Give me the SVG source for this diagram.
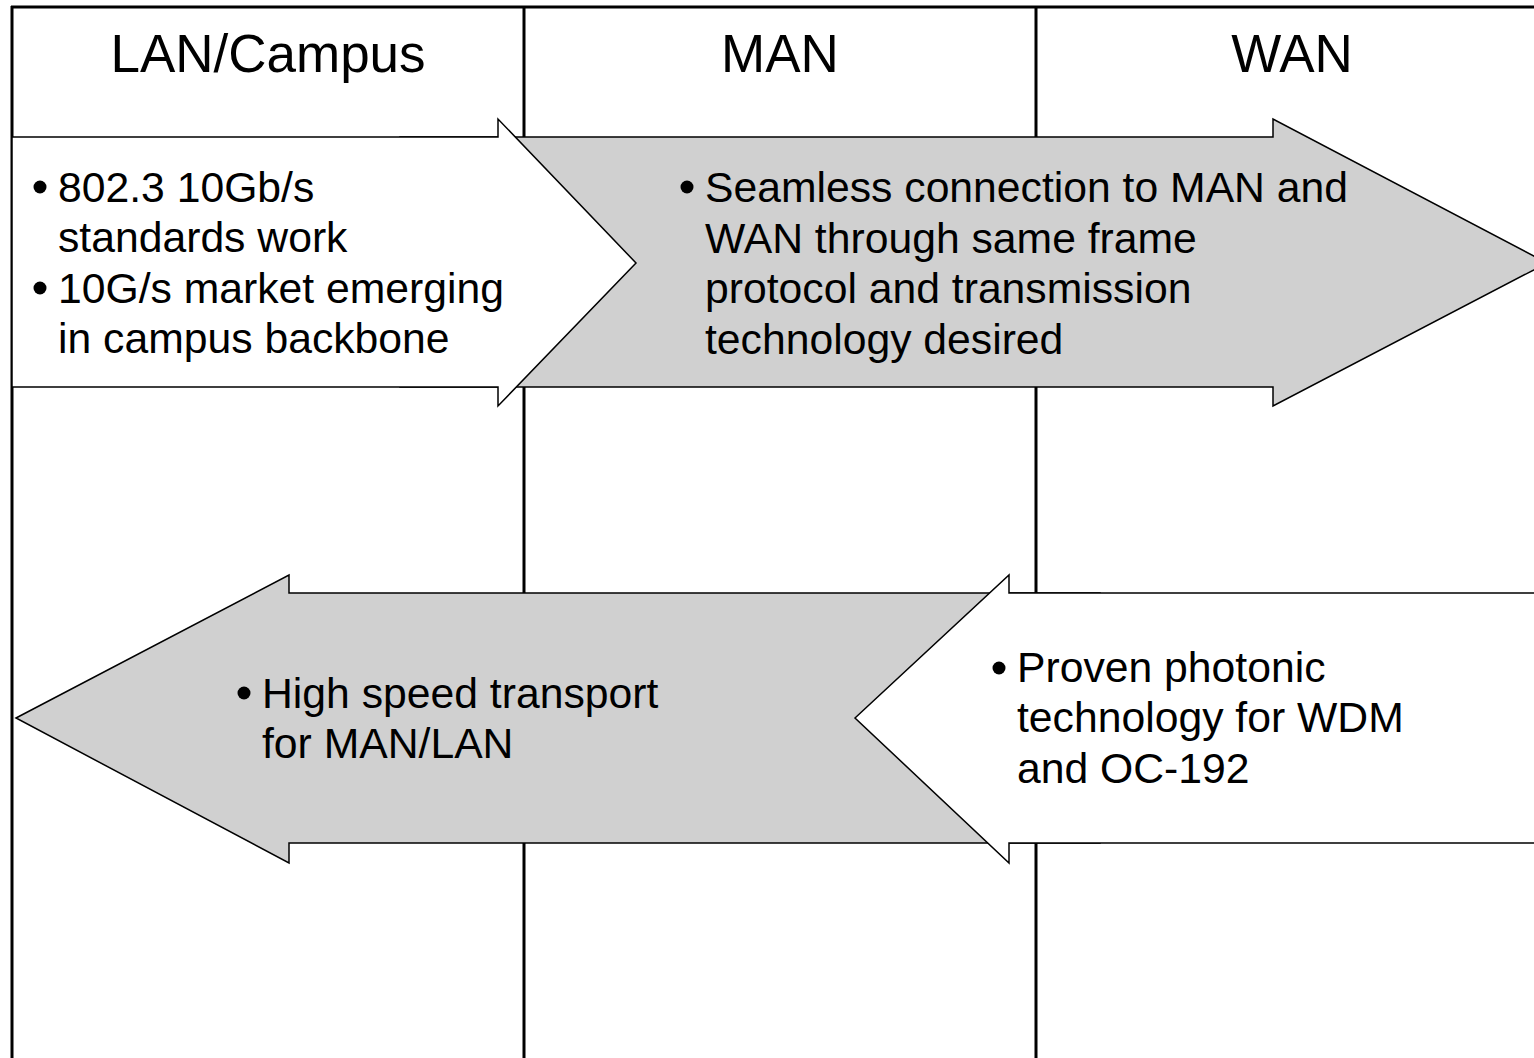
<svg xmlns="http://www.w3.org/2000/svg" width="1534" height="1058" viewBox="0 0 1534 1058">
  <style>
    .head { font-family: "Liberation Sans", Arial, sans-serif; font-size: 53px; fill: #000; text-anchor: middle; }
    .body { font-family: "Liberation Sans", Arial, sans-serif; font-size: 42.7px; fill: #000; }
    .rule { stroke: #000; stroke-width: 3; fill: none; }
    .grey { fill: #d0d0d0; stroke: #000; stroke-width: 1.5; stroke-linejoin: miter; }
    .white { fill: #fff; stroke: #000; stroke-width: 1.5; stroke-linejoin: miter; }
    .dot { fill: #000; }
  </style>
  <rect width="1534" height="1058" fill="#fff"/>

  <!-- table frame and column rules -->
  <g id="grid">
    <line class="rule" x1="11" y1="7" x2="1534" y2="7"/>
    <line class="rule" x1="12" y1="6" x2="12" y2="1058"/>
    <line class="rule" x1="524" y1="6" x2="524" y2="1058"/>
    <line class="rule" x1="1036" y1="6" x2="1036" y2="1058"/>
  </g>

  <!-- column headings -->
  <g id="headings">
    <text class="head" x="268" y="72">LAN/Campus</text>
    <text class="head" x="780" y="72">MAN</text>
    <text class="head" x="1292" y="72">WAN</text>
  </g>

  <!-- MAN/WAN requirement arrow (pointing right) -->
  <g id="seamless">
    <polygon class="grey" points="400,137 1273,137 1273,119 1547,263 1273,406 1273,387 400,387"/>
    <circle class="dot" cx="687" cy="187" r="6.5"/>
    <text class="body" x="705" y="202">Seamless connection to MAN and</text>
    <text class="body" x="705" y="253">WAN through same frame</text>
    <text class="body" x="705" y="303">protocol and transmission</text>
    <text class="body" x="705" y="354">technology desired</text>
  </g>

  <!-- LAN standards arrow (pointing right) -->
  <g id="lan-standards">
    <polygon class="white" points="12,137 498,137 498,119 636,263 498,406 498,387 12,387"/>
    <circle class="dot" cx="40" cy="187" r="6.5"/>
    <text class="body" x="58" y="202">802.3 10Gb/s</text>
    <text class="body" x="58" y="252">standards work</text>
    <circle class="dot" cx="40" cy="288" r="6.5"/>
    <text class="body" x="58" y="303">10G/s market emerging</text>
    <text class="body" x="58" y="353">in campus backbone</text>
  </g>

  <!-- transport arrow (pointing left) -->
  <g id="transport">
    <polygon class="grey" points="16,718 289,575 289,593 1100,593 1100,843 289,843 289,863"/>
    <circle class="dot" cx="244" cy="693" r="6.5"/>
    <text class="body" x="262" y="708">High speed transport</text>
    <text class="body" x="262" y="758">for MAN/LAN</text>
  </g>

  <!-- photonic technology arrow (pointing left) -->
  <g id="photonic">
    <polygon class="white" points="855,718 1009,575 1009,593 1547,593 1547,843 1009,843 1009,863"/>
    <circle class="dot" cx="999" cy="668" r="6.5"/>
    <text class="body" x="1017" y="682">Proven photonic</text>
    <text class="body" x="1017" y="732">technology for WDM</text>
    <text class="body" x="1017" y="783">and OC-192</text>
  </g>
</svg>
